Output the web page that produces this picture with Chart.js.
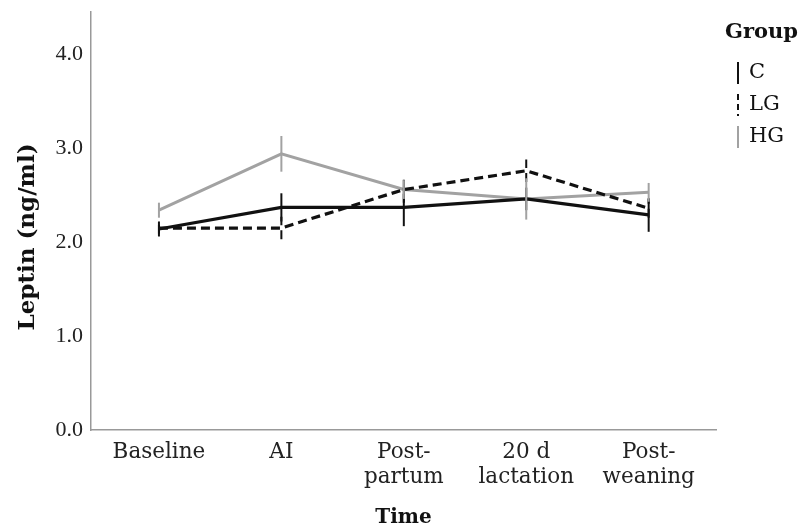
<!DOCTYPE html>
<html>
<head>
<meta charset="utf-8">
<script src="https://cdn.jsdelivr.net/npm/chart.js@4.4.1/dist/chart.umd.min.js"></script>
<style>
    html, body { margin: 0; padding: 0; background: #fff; }
    #wrap { width: 798px; height: 528px; }
</style>
</head>
<body>
<div id="wrap"><canvas id="leptinChart"></canvas></div>
<script>
// Data (means and error bar half-widths, ng/ml)
const timePoints = [['Baseline'], ['AI'], ['Post-', 'partum'], ['20 d', 'lactation'], ['Post-', 'weaning']];
const groupNames = ['C', 'LG', 'HG'];
const cMeans = [2.14, 2.37, 2.37, 2.46, 2.29];
const lgMeans = [2.15, 2.15, 2.56, 2.76, 2.36];
const hgMeans = [2.34, 2.94, 2.56, 2.46, 2.53];
const cErr = [0.08, 0.15, 0.20, 0.12, 0.18];
const lgErr = [0.06, 0.12, 0.14, 0.12, 0.10];
const hgErr = [0.08, 0.19, 0.10, 0.22, 0.10];
const yTicks = [0, 1, 2, 3, 4];

const serif = "'DejaVu Serif', serif";
const narrowSerif = "'Liberation Serif', serif";

function toPoints(values) {
    return values.map((v, i) => ({ x: i, y: v }));
}

// Vertical error bars drawn through the chart's own scales
const errorBars = {
    id: 'errorBars',
    afterDatasetsDraw(chart) {
        const ctx = chart.ctx;
        const xs = chart.scales.x;
        const ys = chart.scales.y;
        chart.data.datasets.forEach(ds => {
            ctx.save();
            ctx.strokeStyle = ds.borderColor;
            ctx.lineWidth = 2;
            ctx.setLineDash(ds.borderDash || []);
            ds.data.forEach((p, i) => {
                const e = ds.errors[i];
                const px = xs.getPixelForValue(p.x);
                ctx.beginPath();
                ctx.moveTo(px, ys.getPixelForValue(p.y - e));
                ctx.lineTo(px, ys.getPixelForValue(p.y + e));
                ctx.stroke();
            });
            ctx.restore();
        });
    }
};

// Y axis title and a legend in the style of the figure
const annotations = {
    id: 'annotations',
    afterDraw(chart) {
        const ctx = chart.ctx;
        ctx.save();
        ctx.fillStyle = '#111';
        ctx.textBaseline = 'middle';

        // y title
        ctx.save();
        ctx.translate(28, 237);
        ctx.rotate(-Math.PI / 2);
        ctx.textAlign = 'center';
        ctx.font = "bold 23px " + serif;
        ctx.fillText('Leptin (ng/ml)', 0, 0);
        ctx.restore();

        // legend
        const left = chart.chartArea.right + 9;
        ctx.font = "bold 21px " + serif;
        ctx.fillText('Group', left, 33);
        ctx.font = "21px " + serif;
        chart.data.datasets.forEach((ds, i) => {
            const cy = 73 + i * 32;
            ctx.strokeStyle = ds.borderColor;
            ctx.lineWidth = 2;
            ctx.setLineDash(ds.borderDash ? [6, 4] : []);
            ctx.beginPath();
            ctx.moveTo(left + 13, cy - 11);
            ctx.lineTo(left + 13, cy + 11);
            ctx.stroke();
            ctx.fillText(ds.label, left + 24, cy);
        });
        ctx.restore();
    }
};

new Chart(document.getElementById('leptinChart'), {
    type: 'line',
    data: {
        datasets: [
            {
                label: groupNames[0],
                data: toPoints(cMeans),
                errors: cErr,
                borderColor: '#111111',
                borderWidth: 3.2
            },
            {
                label: groupNames[1],
                data: toPoints(lgMeans),
                errors: lgErr,
                borderColor: '#111111',
                borderWidth: 3.2,
                borderDash: [9, 5]
            },
            {
                label: groupNames[2],
                data: toPoints(hgMeans),
                errors: hgErr,
                borderColor: '#a2a2a2',
                borderWidth: 3
            }
        ]
    },
    options: {
        responsive: true,
        maintainAspectRatio: false,
        animation: false,
        layout: { padding: { top: 12, right: 82, left: 0, bottom: 0 } },
        elements: {
            point: { radius: 0, hoverRadius: 0 },
            line: { tension: 0 }
        },
        plugins: {
            legend: { display: false },
            tooltip: { enabled: false }
        },
        scales: {
            x: {
                type: 'linear',
                min: -0.555,
                max: 4.55,
                grid: { display: false },
                border: { display: true, color: '#999', width: 1.5 },
                afterBuildTicks: scale => {
                    scale.ticks = timePoints.map((t, i) => ({ value: i }));
                },
                afterFit: scale => {
                    scale.height = 98;
                    scale.paddingLeft = 0;
                    scale.paddingRight = 0;
                },
                ticks: {
                    autoSkip: false,
                    maxRotation: 0,
                    padding: 2,
                    color: '#222',
                    font: { family: serif, size: 21.5, lineHeight: 1.16 },
                    callback: value => timePoints[value]
                },
                title: {
                    display: true,
                    text: 'Time',
                    color: '#111',
                    font: { family: serif, size: 20, weight: 'bold', lineHeight: 1 },
                    padding: { top: 0, bottom: 0 }
                }
            },
            y: {
                min: 0,
                max: 4.45,
                grid: { display: false },
                border: { display: true, color: '#999', width: 1.5 },
                afterBuildTicks: scale => {
                    scale.ticks = yTicks.map(v => ({ value: v }));
                },
                afterFit: scale => {
                    scale.width = 91;
                    scale.paddingTop = 0;
                    scale.paddingBottom = 0;
                },
                ticks: {
                    padding: 0,
                    color: '#222',
                    font: { family: narrowSerif, size: 22 },
                    callback: value => value.toFixed(1)
                }
            }
        }
    },
    plugins: [errorBars, annotations]
});
</script>
</body>
</html>
